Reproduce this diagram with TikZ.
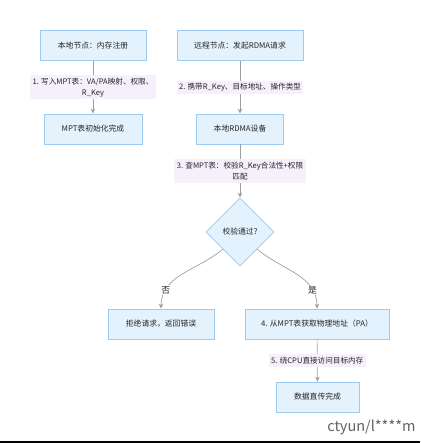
\documentclass[tikz,border=0pt]{standalone}
\usepackage{fontspec}
\newfontfamily\cjk{Noto Sans CJK SC}
\usetikzlibrary{shapes.geometric,arrows.meta}
\definecolor{boxfill}{HTML}{E4F2FD}
\definecolor{boxline}{HTML}{9CCAF0}
\definecolor{lblfill}{HTML}{F5F0FB}
\definecolor{edgegray}{HTML}{9E9E9E}
\definecolor{txtgray}{HTML}{262626}
\begin{document}
\begin{tikzpicture}[x=1pt, y=-1pt,
  proc/.style ={draw=boxline, fill=boxfill, line width=0.8pt, minimum height=30pt,
                font=\cjk\fontsize{7.8}{9.5}\selectfont, text=txtgray},
  check/.style={diamond, aspect=1, draw=boxline, fill=boxfill, line width=0.8pt,
                minimum width=68pt, minimum height=68pt, inner sep=0pt,
                font=\cjk\fontsize{7.8}{9.5}\selectfont, text=txtgray},
  flow/.style ={draw=edgegray, line width=0.7pt, -{Stealth[length=5pt,width=4.5pt]}},
  lbl/.style  ={fill=lblfill, inner sep=2.5pt, align=center,
                font=\cjk\fontsize{7.6}{11}\selectfont, text=txtgray},
  yn/.style   ={fill=white, inner sep=1pt, font=\cjk\fontsize{8.8}{10}\selectfont, text=txtgray},
  wm/.style   ={font=\cjk\fontsize{14.5}{16}\selectfont, text=black!62}]

  \useasboundingbox (0,0) rectangle (420,443);

  % ---------------- left column: registration ----------------
  \node[proc, minimum width=106pt] (reg)  at (93,45.5) {本地节点：内存注册};
  \node[proc, minimum width=98pt]  (init) at (93,129)  {MPT表初始化完成};

  % ---------------- right column: request path ----------------
  \node[proc, minimum width=126pt] (req)  at (240,45.5) {远程节点：发起RDMA请求};
  \node[proc, minimum width=87pt]  (dev)  at (240,129)  {本地RDMA设备};
  \node[check] (ok) at (240,232) {校验通过?};

  % ---------------- outcomes ----------------
  \node[proc, minimum width=106pt] (rej)  at (161,324) {拒绝请求，返回错误};
  \node[proc, minimum width=144pt] (pa)   at (317,324) {4. 从MPT表获取物理地址（PA）};
  \node[proc, minimum width=83pt]  (done) at (317.5,397) {数据直传完成};

  % ---------------- connectors ----------------
  \draw[flow] (reg) -- node[lbl] {1. 写入MPT表：VA/PA映射、权限、\\R\_Key} (init);
  \draw[flow] (req) -- node[lbl] {2. 携带R\_Key、目标地址、操作类型} (dev);
  \draw[flow] (dev) -- node[lbl] {3. 查MPT表：校验R\_Key合法性+权限\\匹配} (ok);
  \draw[flow] (ok.south west) to[out=-140, in=90] node[yn, pos=0.78] {否} (rej.north);
  \draw[flow] (ok.south east) to[out=-40, in=90] node[yn, pos=0.78] {是} (pa.north);
  \draw[flow] (pa) -- node[lbl] {5. 绕CPU直接访问目标内存} (done);

  % ---------------- watermark & bottom rule ----------------
  \node[wm, anchor=east] (mark) at (419,427) {ctyun/l****m};
  \fill[black] (0,441.3) rectangle (420,443);
\end{tikzpicture}
\end{document}
